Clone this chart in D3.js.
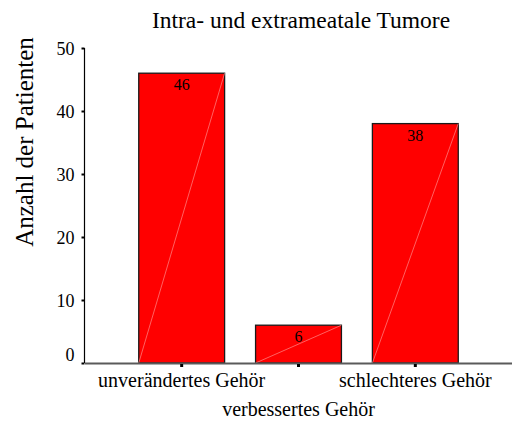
<!DOCTYPE html>
<html>
<head>
<meta charset="utf-8">
<script src="https://cdn.jsdelivr.net/npm/d3@7"></script>
<style>
  body { margin: 0; background: #fff; }
  svg text { font-family: "Liberation Serif", "Times New Roman", Times, "DejaVu Serif", serif; fill: #000; }
</style>
</head>
<body>
<div id="chart"></div>
<script>
// data
var categories = ["unverändertes Gehör", "verbessertes Gehör", "schlechteres Gehör"];
var counts = [46, 6, 38];
var yTicks = [0, 10, 20, 30, 40, 50];
var title = "Intra- und extrameatale Tumore";
var yTitle = "Anzahl der Patienten";

var serif = "'Liberation Serif', 'Times New Roman', Times, 'DejaVu Serif', serif";
var width = 514, height = 427;
var svg = d3.select("#chart").append("svg")
    .attr("width", width)
    .attr("height", height)
    .attr("font-family", serif);

var x = d3.scaleBand()
    .domain(categories)
    .range([85, 512])
    .paddingInner(0.265)
    .paddingOuter(0.46);

var y = d3.scaleLinear()
    .domain([0, 50])
    .range([363, 48]);

// title
svg.append("text")
    .attr("x", 301)
    .attr("y", 28)
    .attr("text-anchor", "middle")
    .attr("font-size", 23.5)
    .text(title);

// y axis title
svg.append("text")
    .attr("transform", "translate(33,142) rotate(-90)")
    .attr("text-anchor", "middle")
    .attr("font-size", 25)
    .text(yTitle);

// bars
var bars = svg.append("g").selectAll("g")
    .data(counts)
    .enter().append("g");

bars.append("rect")
    .attr("x", function (d, i) { return x(categories[i]); })
    .attr("y", function (d) { return y(d); })
    .attr("width", x.bandwidth())
    .attr("height", function (d) { return y(0) - y(d); })
    .attr("fill", "#ff0000")
    .attr("stroke", "#1a1a1a")
    .attr("stroke-width", 1.3);

// faint diagonal line inside each bar
bars.append("line")
    .attr("x1", function (d, i) { return x(categories[i]); })
    .attr("y1", y(0))
    .attr("x2", function (d, i) { return x(categories[i]) + x.bandwidth(); })
    .attr("y2", function (d) { return y(d); })
    .attr("stroke", "#ff8a8a")
    .attr("stroke-width", 0.7);

bars.append("text")
    .attr("x", function (d, i) { return x(categories[i]) + x.bandwidth() / 2; })
    .attr("y", function (d) { return y(d) + 17; })
    .attr("text-anchor", "middle")
    .attr("font-size", 16)
    .text(function (d) { return d; });

// y axis
var yAxis = svg.append("g")
    .attr("transform", "translate(84.5,0)")
    .call(d3.axisLeft(y).tickValues(yTicks).tickSize(3).tickPadding(7));
yAxis.attr("font-family", serif).attr("font-size", 18);
yAxis.select(".domain").attr("d", "M0," + y(50) + "V" + y(0)).attr("stroke", "#000").attr("stroke-width", 1.2);
yAxis.selectAll(".tick line").attr("stroke", "#000").attr("stroke-width", 2);
yAxis.selectAll(".tick text")
    .attr("dy", "0.35em")
    .attr("y", function (d) { return d === 0 ? -9 : 0; });

// x axis
var xAxis = svg.append("g")
    .attr("transform", "translate(0," + y(0) + ")")
    .call(d3.axisBottom(x).tickSize(4).tickPadding(6));
xAxis.attr("font-family", serif).attr("font-size", 20);
xAxis.select(".domain").attr("d", "M85,0.5H512").attr("stroke", "#5a5a5a").attr("stroke-width", 2);
xAxis.selectAll(".tick line").attr("stroke", "#000").attr("stroke-width", 3).attr("y1", 1);
xAxis.selectAll(".tick text")
    .attr("dy", null)
    .attr("y", function (d, i) { return i % 2 === 1 ? 53 : 24; });
</script>
</body>
</html>
